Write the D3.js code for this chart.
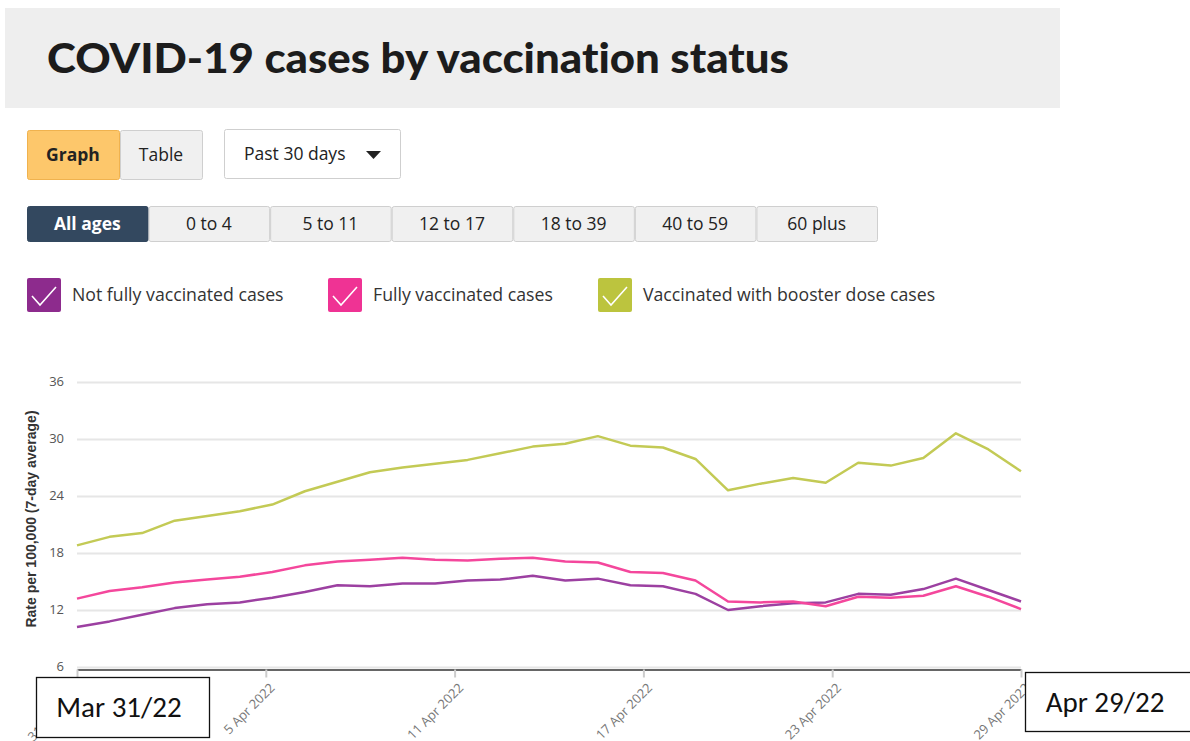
<!DOCTYPE html>
<html>
<head>
<meta charset="utf-8">
<script src="https://cdn.jsdelivr.net/npm/d3@7"></script>
<style>
  html, body { margin: 0; padding: 0; background: #fff; }
  svg { display: block; font-family: 'Open Sans', sans-serif; }
  .grid line { stroke: #e6e6e6; stroke-width: 2; }
  .grid path { display: none; }
  .y-label text { fill: #555; font-size: 13px; }
  .x-axis text { fill: #777; font-size: 13px; font-family: 'Open Sans', sans-serif; }
  .x-axis line { stroke: #ccc; stroke-width: 2; }
  .x-axis path { stroke: #666; stroke-width: 2; }
  .title { font-variant-ligatures: none; font-feature-settings: "liga" 0; }
</style>
</head>
<body>
<svg id="chart" width="1190" height="741"></svg>
<script>
// Data (rate per 100,000, 7-day average)
const dates = d3.range(30).map((i) => d3.timeDay.offset(new Date(2022, 2, 31), i));
const notFully = [10.2, 10.8, 11.5, 12.2, 12.6, 12.8, 13.3, 13.9, 14.6, 14.5, 14.8, 14.8, 15.1, 15.2, 15.6, 15.1, 15.3, 14.6, 14.5, 13.7, 12.0, 12.4, 12.7, 12.8, 13.7, 13.6, 14.2, 15.3, 14.1, 12.9];
const fully = [13.2, 14.0, 14.4, 14.9, 15.2, 15.5, 16.0, 16.7, 17.1, 17.3, 17.5, 17.3, 17.2, 17.4, 17.5, 17.1, 17.0, 16.0, 15.9, 15.1, 12.9, 12.8, 12.9, 12.4, 13.4, 13.3, 13.5, 14.5, 13.4, 12.1];
const booster = [18.8, 19.7, 20.1, 21.4, 21.9, 22.4, 23.1, 24.5, 25.5, 26.5, 27.0, 27.4, 27.8, 28.5, 29.2, 29.5, 30.3, 29.3, 29.1, 27.9, 24.6, 25.3, 25.9, 25.4, 27.5, 27.2, 28.0, 30.6, 28.9, 26.6];
const yTicks = [6, 12, 18, 24, 30, 36];
const xTickLabels = ['31 Mar 2022', '5 Apr 2022', '11 Apr 2022', '17 Apr 2022', '23 Apr 2022', '29 Apr 2022'];
const ageGroups = ['All ages', '0 to 4', '5 to 11', '12 to 17', '18 to 39', '40 to 59', '60 plus'];
const seriesNames = ['Not fully vaccinated cases', 'Fully vaccinated cases', 'Vaccinated with booster dose cases'];
const seriesColors = ['#9c40a1', '#f4479c', '#c3ca55'];
const boxColors = ['#8d2b8d', '#ef3394', '#bcc43e'];
const dateBoxes = ['Mar 31/22', 'Apr 29/22'];

const svg = d3.select('#chart');

// Title band
svg.append('rect').attr('x', 5).attr('y', 8).attr('width', 1055).attr('height', 100).attr('fill', '#eeeeee');
svg.append('text')
  .attr('class', 'title')
  .attr('x', 47).attr('y', 73)
  .attr('font-family', 'Lato, sans-serif')
  .attr('font-size', 41).attr('font-weight', 900).attr('fill', '#1c1c1c')
  .attr('textLength', 742).attr('lengthAdjust', 'spacingAndGlyphs')
  .text('COVID-19 cases by vaccination status');

// Graph / Table toggle
function button(x, y, w, h, label, fill, stroke, color, bold) {
  svg.append('rect').attr('x', x + 0.5).attr('y', y + 0.5).attr('width', w).attr('height', h)
    .attr('rx', 2).attr('fill', fill).attr('stroke', stroke);
  svg.append('text').attr('x', x + w / 2).attr('y', y + h / 2 + 6)
    .attr('text-anchor', 'middle').attr('font-size', 17.5).attr('fill', color)
    .attr('font-weight', bold ? 700 : 400).text(label);
}
button(27, 130, 92, 49, 'Graph', '#fdc76b', '#f0b24e', '#222', true);
button(120, 130, 82, 49, 'Table', '#f0f0f0', '#cfcfcf', '#222', false);

// Period dropdown
svg.append('rect').attr('x', 224.5).attr('y', 129.5).attr('width', 176).attr('height', 49)
  .attr('rx', 2).attr('fill', '#fff').attr('stroke', '#cfcfcf');
svg.append('text').attr('x', 244).attr('y', 160).attr('font-size', 17.5).attr('fill', '#222').text('Past 30 days');
svg.append('path').attr('d', 'M366,151 L381,151 L373.5,159 Z').attr('fill', '#222');

// Age group buttons
const ageX = d3.scaleBand().domain(ageGroups).range([27, 878]);
ageGroups.forEach((a, i) => {
  const active = i === 0;
  button(ageX(a), 206, ageX.bandwidth() - 1, 35, a,
    active ? '#33485f' : '#f0f0f0', active ? '#33485f' : '#cfcfcf',
    active ? '#fff' : '#222', active);
});

// Legend with checkboxes
const legendX = [27, 328, 598];
seriesNames.forEach((name, i) => {
  const g = svg.append('g').attr('transform', `translate(${legendX[i]},278)`);
  g.append('rect').attr('width', 34).attr('height', 34).attr('rx', 2).attr('fill', boxColors[i]);
  g.append('path').attr('d', 'M5,18 L13,27 L29,9').attr('fill', 'none')
    .attr('stroke', '#fff').attr('stroke-width', 1.6);
  g.append('text').attr('x', 45).attr('y', 23).attr('font-size', 17.7).attr('fill', '#333').text(name);
});

// Scales
const x = d3.scalePoint().domain(dates).range([77, 1021]);
const xTicks = d3.scalePoint().domain(xTickLabels).range([77, 1021]);
const y = d3.scaleLinear().domain([6, 36]).range([667, 382]);

// Grid
svg.append('g').attr('class', 'grid')
  .attr('transform', 'translate(77,0)')
  .call(d3.axisLeft(y).tickValues(yTicks).tickSize(-944).tickFormat(''));
svg.append('g').attr('class', 'y-label')
  .selectAll('text').data(yTicks).join('text')
  .attr('x', 64).attr('y', (d) => y(d) + 4)
  .attr('text-anchor', 'end').text((d) => d);

// X axis (labels run off the bottom edge, as in the reference)
const xAxis = svg.append('g').attr('class', 'x-axis')
  .attr('transform', 'translate(0,669.5)')
  .call(d3.axisBottom(xTicks).tickSize(8).tickSizeOuter(0));
xAxis.selectAll('text')
  .attr('x', 0).attr('y', 0).attr('dy', '0.35em')
  .attr('text-anchor', 'end')
  .attr('transform', 'translate(6,16) rotate(-45)');

// Y axis title
svg.append('text')
  .attr('transform', 'translate(36,519) rotate(-90)')
  .attr('text-anchor', 'middle')
  .attr('font-family', 'Liberation Sans, Arial, sans-serif')
  .attr('font-size', 14).attr('font-weight', 700).attr('fill', '#333')
  .text('Rate per 100,000 (7-day average)');

// Lines
const line = d3.line().x((d, i) => x(dates[i])).y((d) => y(d));
[notFully, fully, booster].forEach((s, i) => {
  svg.append('path').datum(s)
    .attr('fill', 'none').attr('stroke', seriesColors[i])
    .attr('stroke-width', 2.5).attr('stroke-linejoin', 'round')
    .attr('d', line);
});

// Date annotation boxes
const boxPos = [[36, 677, 173, 60], [1025, 672, 170, 59]];
dateBoxes.forEach((label, i) => {
  const [bx, by, bw, bh] = boxPos[i];
  svg.append('rect').attr('x', bx + 0.5).attr('y', by + 0.5).attr('width', bw).attr('height', bh)
    .attr('fill', '#fff').attr('stroke', '#111').attr('stroke-width', 1.3);
  svg.append('text').attr('x', bx + (i === 0 ? 83 : 80)).attr('y', by + 40)
    .attr('text-anchor', 'middle').attr('font-family', 'Carlito, Liberation Sans, sans-serif')
    .attr('font-size', 29).attr('fill', '#111').text(label);
});
</script>
</body>
</html>
